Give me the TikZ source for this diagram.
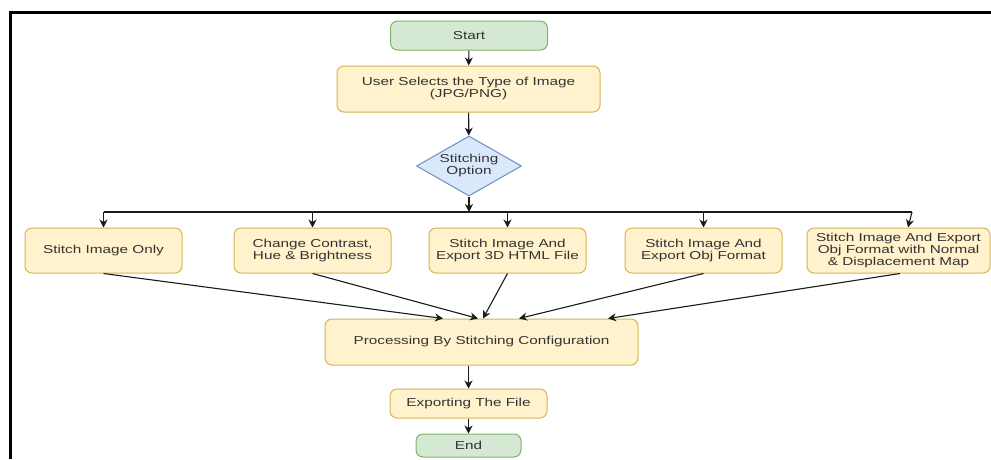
\documentclass[tikz,border=0pt]{standalone}
\usepackage{fontspec}
\setmainfont{Liberation Sans}[FakeStretch=1.33]
\usetikzlibrary{shapes.geometric,arrows.meta}

\definecolor{termfill}{HTML}{D5E8D4}
\definecolor{termline}{HTML}{82B366}
\definecolor{procfill}{HTML}{FFF2CC}
\definecolor{procline}{HTML}{D6B656}
\definecolor{decfill}{HTML}{DAE8FC}
\definecolor{decline}{HTML}{6C8EBF}
\definecolor{txt}{HTML}{333333}
\definecolor{wire}{HTML}{1A1A1A}

\tikzset{
  base/.style={rounded corners=7pt, line width=1pt, align=center,
    text=txt, inner sep=0pt,
    font=\fontsize{11.5}{12}\selectfont},
  terminal/.style={base, draw=termline, fill=termfill,
    minimum width=157pt, minimum height=29pt},
  process/.style={base, draw=procline, fill=procfill,
    minimum width=157pt, minimum height=45pt},
  decision/.style={diamond, draw=decline, fill=decfill, line width=1pt,
    aspect=1.75, inner sep=0pt, minimum width=105pt, minimum height=60pt,
    align=center, text=txt, font=\fontsize{11.5}{12}\selectfont},
  flow/.style={draw=wire, line width=1.1pt,
    -{Stealth[length=8pt,width=8pt,inset=2.5pt]}},
  link/.style={draw=wire, line width=1.1pt}
}

\begin{document}
\begin{tikzpicture}[x=1pt,y=-1pt]
  \useasboundingbox (0,0) rectangle (991,459);
  \fill[white] (0,0) rectangle (991,459);

  % outer frame (top and left edges)
  \draw[line width=3pt, black] (10,459) -- (10,12) -- (991,12);

  % main column
  \node[terminal] (start) at (469,35.5) {Start};
  \node[process, minimum width=263pt, minimum height=46pt] (select) at (468.5,89)
    {User Selects the Type of Image\\(JPG/PNG)};
  \node[decision] (opt) at (469,166) {Stitching\\Option};

  % option row
  \node[process] (o1) at (103.5,250.5) {Stitch Image Only};
  \node[process] (o2) at (312.5,250.5) {Change Contrast,\\Hue \& Brightness};
  \node[process] (o3) at (507.5,250.5) {Stitch Image And\\Export 3D HTML File};
  \node[process] (o4) at (703.5,250.5) {Stitch Image And\\Export Obj Format};
  \node[process, minimum width=183pt] (o5) at (898.5,250.5)
    {Stitch Image And Export\\Obj Format with Normal\\\& Displacement Map};

  \node[process, minimum width=313pt, minimum height=46pt] (proc) at (481.5,342)
    {Processing By Stitching Configuration};
  \node[process, minimum width=157pt, minimum height=29pt] (exp) at (468.5,403.5)
    {Exporting The File};
  \node[terminal, minimum width=105pt, minimum height=23pt] (end) at (468.5,445.5) {End};

  % distribution bus
  \coordinate (busL) at (103.5,212);
  \coordinate (busR) at (912,212);
  \coordinate (busM) at (469,212);

  \draw[flow] (start) -- (select);
  \draw[flow] (select) -- (opt);
  \draw[flow] (opt.south) -- (busM);
  \draw[link] (busL) -- (busR);
  \draw[flow] (busL) -- (o1.north);
  \draw[flow] (o2.north |- busL) -- (o2.north);
  \draw[flow] (o3.north |- busL) -- (o3.north);
  \draw[flow] (o4.north |- busL) -- (o4.north);
  \draw[flow] (busR) -- ([xshift=9.5pt]o5.north);

  % merge into processing
  \draw[flow] (o1.south) -- ([xshift=-38.5pt]proc.north);
  \draw[flow] (o2.south) -- ([xshift=-3.5pt]proc.north);
  \draw[flow] (o3.south) -- ([xshift=1.5pt]proc.north);
  \draw[flow] (o4.south) -- ([xshift=37.5pt]proc.north);
  \draw[flow] ([xshift=1.5pt]o5.south) -- ([xshift=126.5pt]proc.north);

  \draw[flow] (proc.south -| exp.north) -- (exp.north);
  \draw[flow] (exp) -- (end);
\end{tikzpicture}
\end{document}
